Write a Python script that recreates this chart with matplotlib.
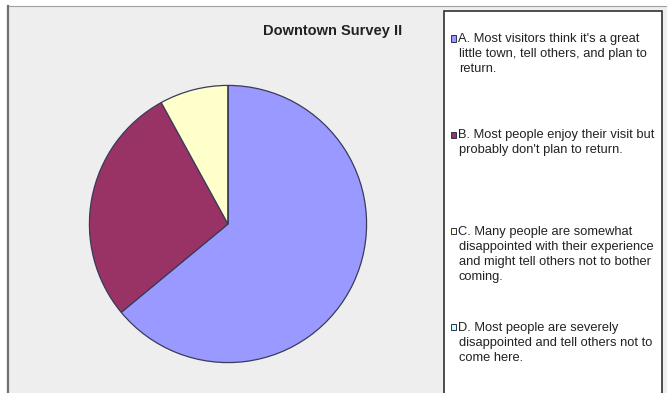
import matplotlib
matplotlib.use("Agg")
import matplotlib.pyplot as plt
from matplotlib.patches import Rectangle
from matplotlib.lines import Line2D

# Survey answers and their share of respondents (percent)
categories = ["A", "B", "C", "D"]
values = [64, 28, 8, 0]
labels = [
    ["A. Most visitors think it's a great", "little town, tell others, and plan to", "return."],
    ["B. Most people enjoy their visit but", "probably don't plan to return."],
    ["C. Many people are somewhat", "disappointed with their experience",
     "and might tell others not to bother", "coming."],
    ["D. Most people are severely", "disappointed and tell others not to", "come here."],
]
title = "Downtown Survey II"
colors = ["#9999FF", "#993366", "#FFFFCC", "#CCFFFF"]

W, H = 667, 393
fig = plt.figure(figsize=(W / 100, H / 100), dpi=100, facecolor="white")


def fx(x):
    return x / W


def fy(y):
    return 1 - y / H


# chart area
fig.patches.append(Rectangle((fx(7), fy(400)), fx(668) - fx(7), fy(6) - fy(400),
                             transform=fig.transFigure, facecolor="#eeeeee",
                             edgecolor="#a0a0a0", linewidth=0.8, zorder=0))
fig.lines.append(Line2D([fx(7.5), fx(7.5)], [fy(6), fy(400)], transform=fig.transFigure,
                        color="#707070", linewidth=1.6, zorder=1))

# pie
cx, cy, r = 228, 224, 139
ax = fig.add_axes([fx(cx - r), fy(cy + r), (2 * r) / W, (2 * r) / H])
ax.set_zorder(5)
ax.patch.set_visible(False)
ax.pie(values, colors=colors, startangle=90, counterclock=False, radius=1,
       wedgeprops=dict(edgecolor="#3a3a5a", linewidth=0.9))
ax.set_xlim(-1.003, 1.003)
ax.set_ylim(-1.003, 1.003)
ax.set_axis_off()

fig.text(fx(333), fy(31), title, ha="center", va="center",
         fontsize=10.5, fontweight="bold", color="#222222",
         family=["Liberation Sans", "DejaVu Sans"], zorder=6)

# legend box
fig.patches.append(Rectangle((fx(444), fy(400)), fx(662) - fx(444), fy(11) - fy(400),
                             transform=fig.transFigure, facecolor="white",
                             edgecolor="#303030", linewidth=1.2, zorder=2))

for i, (lines, col) in enumerate(zip(labels, colors)):
    base = 42 + i * 96.3
    fig.patches.append(Rectangle((fx(451), fy(base - 0.5)), 5 / W, 6 / H,
                                 transform=fig.transFigure, facecolor=col,
                                 edgecolor="#303050", linewidth=0.7, zorder=3))
    for k, line in enumerate(lines):
        fig.text(fx(458 if k == 0 else 459), fy(base + 15 * k), line,
                 ha="left", va="baseline", fontsize=9.3, color="#222222",
                 family=["Liberation Sans Narrow", "Liberation Sans", "DejaVu Sans"],
                 zorder=3)

fig.savefig("out.png", dpi=100, facecolor="white")
